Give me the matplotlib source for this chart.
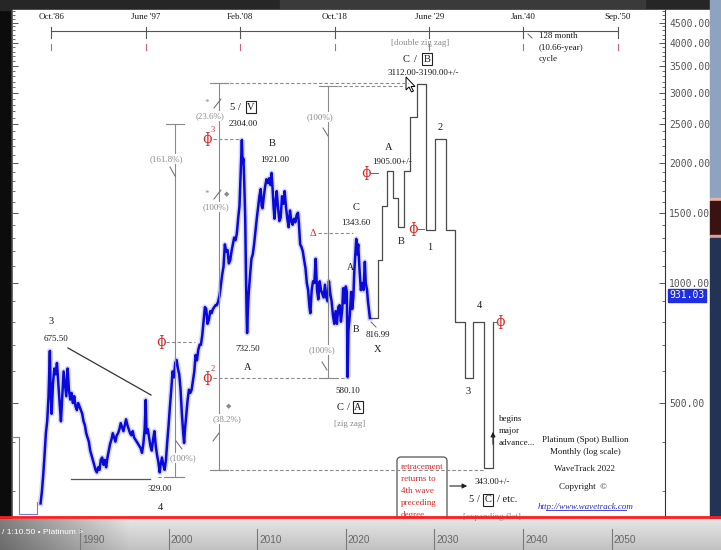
import numpy as np
import matplotlib.pyplot as plt
from matplotlib.patches import Rectangle, Polygon, FancyBboxPatch
from matplotlib.ticker import FixedLocator, FuncFormatter, NullFormatter

# Datos (precio mensual aproximado del platino, log)
price_years = [1985.55, 1985.7, 1985.85, 1986.0, 1986.15, 1986.3, 1986.45, 1986.6, 1986.68, 1986.8,
               1986.95, 1987.1, 1987.25, 1987.4, 1987.55, 1987.7, 1987.85, 1988.0, 1988.15, 1988.3,
               1988.45, 1988.6, 1988.75, 1988.9, 1989.05, 1989.2, 1989.35, 1989.5, 1989.65, 1989.8,
               1989.95, 1990.1, 1990.25, 1990.4, 1990.55, 1990.7, 1990.85, 1991.0, 1991.15, 1991.3,
               1991.45, 1991.6, 1991.75, 1991.9, 1992.05, 1992.2, 1992.35, 1992.5, 1992.65, 1992.8,
               1992.95, 1993.1, 1993.25, 1993.4, 1993.55, 1993.7, 1993.85, 1994.0, 1994.15, 1994.3,
               1994.45, 1994.6, 1994.75, 1994.9, 1995.05, 1995.2, 1995.35, 1995.5, 1995.65, 1995.8,
               1995.95, 1996.1, 1996.25, 1996.4, 1996.55, 1996.7, 1996.85, 1997.0, 1997.15, 1997.3,
               1997.42, 1997.5, 1997.65, 1997.8, 1997.95, 1998.1, 1998.25, 1998.4, 1998.55, 1998.7,
               1998.85, 1999.0, 1999.1, 1999.25, 1999.4, 1999.55, 1999.7, 1999.85, 2000.0, 2000.15,
               2000.3, 2000.45, 2000.6, 2000.75, 2000.9, 2001.05, 2001.2, 2001.35, 2001.5, 2001.65,
               2001.75, 2001.85, 2002.0, 2002.15, 2002.3, 2002.45, 2002.6, 2002.75, 2002.9, 2003.05,
               2003.2, 2003.35, 2003.5, 2003.65, 2003.8, 2003.95, 2004.1, 2004.25, 2004.4, 2004.55,
               2004.7, 2004.85, 2005.0, 2005.15, 2005.3, 2005.45, 2005.6, 2005.75, 2005.9, 2006.05,
               2006.2, 2006.35, 2006.5, 2006.65, 2006.8, 2006.95, 2007.1, 2007.25, 2007.4, 2007.55,
               2007.7, 2007.85, 2008.0, 2008.1, 2008.2, 2008.27, 2008.35, 2008.45, 2008.55, 2008.65,
               2008.72, 2008.8, 2008.86, 2008.95, 2009.05, 2009.2, 2009.35, 2009.5, 2009.65, 2009.8,
               2009.95, 2010.1, 2010.25, 2010.4, 2010.5, 2010.6, 2010.75, 2010.9, 2011.05, 2011.2,
               2011.35, 2011.5, 2011.62, 2011.72, 2011.85, 2011.95, 2012.1, 2012.2, 2012.35, 2012.5,
               2012.65, 2012.8, 2012.95, 2013.1, 2013.25, 2013.4, 2013.55, 2013.7, 2013.85, 2014.0,
               2014.15, 2014.3, 2014.45, 2014.6, 2014.7, 2014.85, 2015.0, 2015.15, 2015.3, 2015.45,
               2015.6, 2015.75, 2015.9, 2016.0, 2016.15, 2016.3, 2016.45, 2016.6, 2016.75, 2016.9,
               2017.05, 2017.2, 2017.35, 2017.5, 2017.65, 2017.8, 2017.95, 2018.1, 2018.25, 2018.4,
               2018.55, 2018.7, 2018.85, 2019.0, 2019.15, 2019.3, 2019.45, 2019.6, 2019.7, 2019.85,
               2020.0, 2020.12, 2020.2, 2020.3, 2020.45, 2020.6, 2020.72, 2020.85, 2020.95, 2021.1,
               2021.18, 2021.3, 2021.4, 2021.55, 2021.7, 2021.85, 2022.0, 2022.15, 2022.25, 2022.4,
               2022.5, 2022.6, 2022.72]
price_values = [280, 300, 330, 370, 420, 450, 520, 675.5, 540, 470,
                560, 610, 590, 630, 560, 500, 450, 520, 600, 560,
                520, 610, 540, 510, 530, 500, 520, 490, 480, 500,
                490, 480, 470, 450, 440, 420, 410, 400, 380, 370,
                360, 350, 340, 335, 345, 340, 360, 365, 350, 360,
                345, 365, 380, 395, 405, 420, 410, 400, 415, 420,
                430, 445, 435, 425, 440, 455, 440, 430, 420, 415,
                425, 410, 405, 400, 395, 390, 385, 375, 395, 430,
                509, 420, 430, 410, 390, 380, 405, 425, 390, 370,
                355, 335, 350, 365, 350, 340, 360, 400, 440, 490,
                540, 600, 580, 630, 641, 610, 590, 540, 470, 420,
                397, 430, 470, 510, 540, 530, 540, 570, 600, 660,
                640, 680, 700, 700, 740, 800, 870, 860, 790, 810,
                850, 840, 860, 870, 880, 880, 900, 930, 990, 1050,
                1100, 1250, 1200, 1210, 1120, 1140, 1200, 1250, 1300, 1280,
                1330, 1450, 1560, 1800, 2100, 2284, 2000, 2050, 1750, 1450,
                1100, 850, 749, 860, 950, 1050, 1150, 1180, 1250, 1350,
                1450, 1550, 1650, 1720, 1560, 1540, 1650, 1750, 1820, 1780,
                1830, 1760, 1888, 1750, 1550, 1450, 1620, 1700, 1550, 1430,
                1460, 1650, 1580, 1700, 1550, 1450, 1380, 1520, 1430, 1400,
                1450, 1420, 1480, 1500, 1420, 1250, 1230, 1200, 1140, 1090,
                1000, 960, 870, 840, 960, 1010, 1000, 1150, 960, 910,
                1010, 960, 940, 920, 990, 920, 900, 1010, 940, 900,
                830, 790, 850, 790, 870, 880, 800, 860, 970, 890,
                980, 950, 581, 760, 830, 950, 860, 920, 1060, 1200,
                1290, 1180, 1250, 1080, 960, 1000, 960, 1130, 1000, 960,
                900, 860, 817]

# Proyección (escalones)
proj_years = [2022.8, 2023.63, 2024.09, 2024.65, 2025.33, 2025.89, 2026.57, 2027.25, 2028.04,
              2029.05, 2030.07, 2031.31, 2032.33, 2033.45, 2034.36, 2035.6, 2036.6]
proj_values = [817, 1142, 1560, 1905, 1634, 1382, 1905, 2608, 3150,
               1358, 2297, 1358, 800, 578, 800, 343, 800]

top_dates = [1986.75, 1997.42, 2008.08, 2018.75, 2029.42, 2040.0, 2050.67]
top_labels = ["Oct.'86", "June '97", "Feb.'08", "Oct.'18", "June '29", "Jan.'40", "Sep.'50"]
bottom_years = [1990, 2000, 2010, 2020, 2030, 2040, 2050]
right_ticks = [500, 1000, 1500, 2000, 2500, 3000, 3500, 4000, 4500]
last_price = 931.03

# Conversión año/precio -> pixel de la captura
def X(year):
    return 80 + (year - 1990) * 8.86

def Y(p):
    return 283 - (np.log10(p) - 3) * 398.7

def year_of(px):
    return 1990 + (px - 80) / 8.86

def price_of(py):
    return 10 ** (3 + (283 - py) / 398.7)

W, H = 721, 550
SERIF = ['Liberation Serif', 'DejaVu Serif']
D = '#1a1a1a'
G = '#8a8a8a'
R = '#d42a2a'

fig = plt.figure(figsize=(7.21, 5.5), dpi=100)
fig.patch.set_facecolor('#111111')

# Fondo (pixeles)
bg = fig.add_axes([0, 0, 1, 1], zorder=-1)
bg.set_xlim(0, W)
bg.set_ylim(H, 0)
bg.axis('off')
bg.add_patch(Rectangle((0, 0), W, H, color='#0c0c0c'))
bg.add_patch(Rectangle((0, 0), W, 10, color='#262626'))
bg.add_patch(Rectangle((280, 0), 365, 8, color='#3a3a3a'))
bg.add_patch(Rectangle((12, 10), 698, 526, color='white'))
bg.add_patch(Rectangle((710, 0), 11, 198, color='#8ea3c2'))
bg.add_patch(Rectangle((710, 198), 11, 3, color='#e8b2a0'))
bg.add_patch(Rectangle((710, 201), 11, 34, color='#3a1212'))
bg.add_patch(Rectangle((710, 235), 11, 3, color='#e0a090'))
bg.add_patch(Rectangle((710, 238), 11, 312, color='#223456'))

# Ejes principales
ax = fig.add_axes([12 / W, (H - 536) / H, 653 / W, 526 / H], zorder=1)
ax.set_facecolor('white')
ax.set_yscale('log')
ax.set_xlim(year_of(12), year_of(665))
ax.set_ylim(price_of(536), price_of(10))

ax.plot(price_years, price_values, color='#8a8af2', lw=4.0, alpha=0.35)
ax.plot(price_years, price_values, color='#0a0ad8', lw=1.8)
ax.plot(proj_years, proj_values, color='#4a4a4a', lw=0.9, drawstyle='steps-post')

ax.yaxis.set_major_locator(FixedLocator(right_ticks))
minors = [v for v in range(300, 4900, 100) if v not in right_ticks]
ax.yaxis.set_minor_locator(FixedLocator(minors))
ax.yaxis.set_major_formatter(FuncFormatter(lambda v, p: f'{v:.2f}'))
ax.yaxis.set_minor_formatter(NullFormatter())
ax.tick_params(axis='y', which='both', direction='in', left=True, right=True,
               labelleft=False, labelright=True, colors='#555555', labelsize=7, pad=3)
ax.tick_params(axis='y', which='major', length=4, width=0.7)
ax.tick_params(axis='y', which='minor', length=2.5, width=0.6)
for lab in ax.get_yticklabels():
    lab.set_family('DejaVu Sans Mono')
ax.set_xticks([])
for s in ['top', 'bottom']:
    ax.spines[s].set_visible(False)
ax.spines['left'].set_color('#666666')
ax.spines['right'].set_color('#333333')
ax.spines['left'].set_linewidth(0.7)
ax.spines['right'].set_linewidth(0.8)

# Capa de anotaciones (pixeles)
ov = fig.add_axes([0, 0, 1, 1], zorder=3)
ov.set_xlim(0, W)
ov.set_ylim(H, 0)
ov.axis('off')
ov.patch.set_alpha(0)

def txt(x, y, s, color=D, size=6.5, ha='center', **kw):
    ov.text(x, y, s, color=color, fontsize=size, ha=ha, va='center', family=SERIF, **kw)

def boxed(x, y, s, size=7.5):
    ov.text(x, y, s, color=D, fontsize=size, ha='center', va='center', family=SERIF,
            bbox=dict(boxstyle='square,pad=0.15', fc='white', ec='#222222', lw=0.8))

def gl(xs, ys, color=G, lw=0.8, ls='-'):
    ov.plot(xs, ys, color=color, lw=lw, ls=ls)

# Escala de fechas superior
gl([X(top_dates[0]), X(top_dates[-1])], [31, 31], color='#555555', lw=0.8)
for d, lab in zip(top_dates, top_labels):
    gl([X(d), X(d)], [27, 38], color='#555555', lw=0.8)
    gl([X(d), X(d)], [44, 50], color='#d06070', lw=0.8)
    txt(X(d), 17, lab, size=6.5)

# Líneas verticales de porcentajes
for xv, y0, y1 in [(175, 124, 477), (219, 83, 470), (328, 86, 378)]:
    gl([xv, xv], [y0, y1])
    gl([xv - 9, xv + 9], [y0, y0])
    gl([xv - 9, xv + 9], [y1, y1])
gl([213, 408], [83, 83], ls=(0, (3, 2)))
gl([338, 406], [86, 86], ls=(0, (3, 2)))
gl([213, 240], [139, 139], ls=(0, (3, 2)))
gl([166, 195], [342, 342], ls=(0, (3, 2)))
gl([318, 353], [233, 233], ls=(0, (3, 2)))
gl([213, 348], [378, 378], ls=(0, (3, 2)))
gl([213, 483], [470, 470], ls=(0, (3, 2)))
gl([158, 183], [477, 477], ls=(0, (3, 2)))
# triángulo
gl([68, 151], [348, 395], color='#333333', lw=0.9)
gl([71, 150], [479, 479], color='#555555', lw=0.9)
# marcas inclinadas
for x0, y0, x1, y1 in [(170, 167, 175, 176), (214, 108, 221, 99), (214, 199, 221, 190),
                       (213, 441, 219, 433), (176, 441, 182, 449), (323, 128, 328, 136),
                       (322, 362, 327, 370), (528, 34, 532, 38), (371, 322, 376, 327)]:
    gl([x0, x1], [y0, y1], color='#666666', lw=0.7)

wb = dict(fc='white', ec='none', pad=0.5)
txt(166, 159, '(161.8%)', G, bbox=wb)
txt(207, 103, '*', G)
txt(210, 116, '(23.6%)', G, bbox=wb)
txt(207, 194, '*', G)
ov.text(227, 194, '◆', color=G, fontsize=5, ha='center', va='center', family=['DejaVu Sans'])
txt(216, 207, '(100%)', G, bbox=wb)
ov.text(229, 406, '◆', color=G, fontsize=5, ha='center', va='center', family=['DejaVu Sans'])
txt(227, 419, '(38.2%)', G, bbox=wb)
txt(183, 458, '(100%)', G, bbox=wb)
txt(320, 117, '(100%)', G, bbox=wb)
txt(322, 350, '(100%)', G, bbox=wb)

# Etiquetas de ondas
txt(51, 322, '3', size=7.5)
txt(56, 339, '675.50')
txt(160, 489, '329.00')
txt(160, 507, '4', size=7.5)
txt(232, 107, '5', size=7.5)
txt(239, 107, '/', size=7.5)
boxed(251, 107, 'V')
txt(243, 124, '2304.00')
txt(272, 143, 'B', size=7.5)
txt(275, 160, '1921.00')
txt(248, 349, '732.50')
txt(248, 367, 'A', size=7.5)
txt(356, 208, 'C', size=7.5)
txt(356, 223, '1343.60')
txt(350, 267, 'A', size=7)
txt(356, 330, 'B', size=7)
txt(378, 335, '816.99')
txt(378, 350, 'X', size=7.5)
txt(348, 391, '580.10')
txt(340, 407, 'C', size=7.5)
txt(348, 407, '/', size=7.5)
boxed(358, 407, 'A')
txt(350, 424, '[zig zag]', G)
txt(389, 147, 'A', size=7.5)
txt(392, 162, '1905.00+/-')
txt(401, 241, 'B', size=7.5)
txt(430, 247, '1', size=7.5)
txt(440, 127, '2', size=7.5)
txt(479, 306, '4', size=7.5)
txt(468, 392, '3', size=7.5)
txt(420, 43, '[double zig zag]', G)
txt(406, 59, 'C', size=7.5)
txt(415, 59, '/', size=7.5)
boxed(427, 59, 'B')
txt(423, 73, '3112.00-3190.00+/-')
txt(539, 36, '128 month', ha='left')
txt(539, 48, '(10.66-year)', ha='left')
txt(539, 59, 'cycle', ha='left')

# Phi rojos
for xp, yp, sup in [(161, 342, ''), (207, 378, '2'), (207, 139, '3'), (366, 173, ''),
                    (413, 229, ''), (500, 322, '')]:
    ov.text(xp, yp, 'ɸ', color=R, fontsize=10, ha='center', va='center',
            family=['DejaVu Serif', 'DejaVu Sans'])
    if sup:
        txt(xp + 6, yp - 9, sup, R, size=6)
gl([371, 378], [173, 173], color='#666666', lw=0.7)
gl([418, 424], [229, 229], color='#666666', lw=0.7)
gl([493, 496], [322, 322], color='#666666', lw=0.7)
txt(313, 233, 'Δ', R, size=7.5)

# Flechas y textos inferiores
ov.annotate('', xy=(493, 429), xytext=(493, 447),
            arrowprops=dict(arrowstyle='-|>', color='#222222', lw=0.8, mutation_scale=7))
txt(499, 419, 'begins', ha='left')
txt(499, 431, 'major', ha='left')
txt(499, 443, 'advance...', ha='left')
ov.add_patch(FancyBboxPatch((397, 457), 50, 66, boxstyle='round,pad=0,rounding_size=4',
                            fc='white', ec='#555555', lw=0.9))
for i, s in enumerate(['retracement', 'returns to', '4th wave', 'preceding', 'degree']):
    txt(401, 467 + i * 12, s, R, ha='left')
ov.annotate('', xy=(470, 486), xytext=(447, 486),
            arrowprops=dict(arrowstyle='-|>', color='#222222', lw=0.8, mutation_scale=7))
txt(492, 482, '343.00+/-')
txt(471, 500, '5', size=7.5)
txt(478, 500, '/', size=7.5)
boxed(488, 500, 'C')
txt(497, 500, '/ etc.', size=7.5, ha='left')
txt(492, 517, '[expanding flat]', G)

txt(585, 440, 'Platinum (Spot) Bullion')
txt(585, 452, 'Monthly (log scale)')
txt(584, 469, 'WaveTrack 2022')
txt(583, 487, 'Copyright  ©')
ov.text(586, 507, 'http://www.wavetrack.com', color='#2a2ad0', fontsize=6.5, ha='center',
        va='center', family=SERIF, style='italic')
gl([546, 626], [510, 510], color='#2a2ad0', lw=0.6)

# Cursor del ratón
cur = np.array([[0, 0], [0, 13], [3, 10], [5.5, 15], [7.5, 14], [5, 9.5], [9, 9.5]])
ov.add_patch(Polygon(cur + [406, 77], closed=True, fc='white', ec='black', lw=0.7))

# Caja azul a la izquierda
gl([12, 19, 19, 37, 37], [437, 437, 514, 514, 502], color='#7a7ac8', lw=0.8)

# Precio actual
ov.text(687, Y(last_price), f'{last_price:.2f}', color='white', fontsize=7, ha='center',
        va='center', family='DejaVu Sans Mono',
        bbox=dict(boxstyle='square,pad=0.15', fc='#1f2fe0', ec='#1f2fe0'))

# Barra inferior del vídeo
yy = np.linspace(0, 1, 31)[:, None]
xx = np.linspace(0, 1, W)[None, :]
shade = (0.9 - 0.14 * yy) * (0.55 + 0.45 * np.clip(xx * W / 130, 0, 1))
band = np.dstack([shade, shade, shade])
ov.imshow(band, extent=(0, W, 550, 519), aspect='auto', zorder=2)
ov.set_xlim(0, W)
ov.set_ylim(H, 0)
for yr in bottom_years:
    ov.plot([X(yr), X(yr)], [529, 549], color='#7a7a7a', lw=0.8, zorder=3)
    ov.text(X(yr) + 2, 540, str(yr), color='#666666', fontsize=7.2, ha='left', va='center',
            family='Liberation Sans', zorder=3)
ov.text(2, 533, '/ 1:10.50 • Platinum >', color='white', fontsize=6, ha='left',
        va='center', family='Liberation Sans', zorder=4)
ov.plot([0, W], [517, 517], color='#ff1c1c', lw=2.0, zorder=5)

fig.savefig('out.png', dpi=100, facecolor=fig.get_facecolor())
